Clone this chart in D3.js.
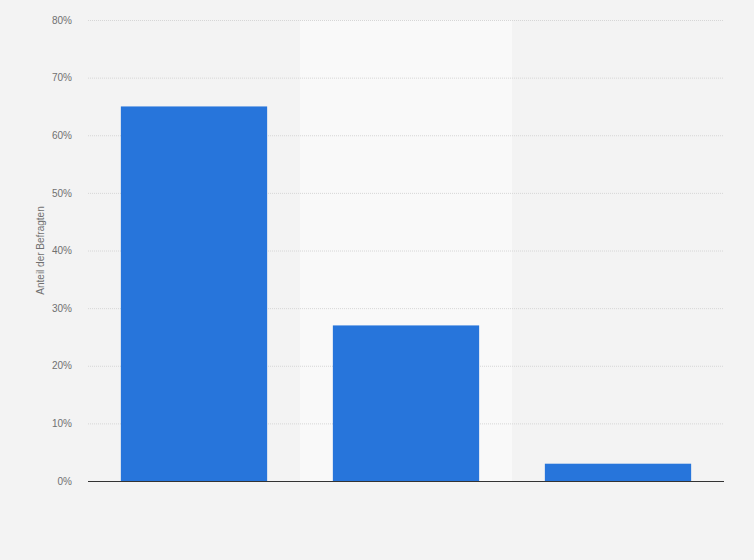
<!DOCTYPE html>
<html>
<head>
<meta charset="utf-8">
<script src="https://cdn.jsdelivr.net/npm/d3@7"></script>
<style>
  html, body { margin: 0; padding: 0; background: #f3f3f3; }
  svg { display: block; font-family: "Liberation Sans", Arial, sans-serif; }
</style>
</head>
<body>
<svg width="754" height="560"></svg>
<script>
const categories = ["Kategorie 1", "Kategorie 2", "Kategorie 3"];
const values = [65, 27, 3];
const yTicks = [0, 10, 20, 30, 40, 50, 60, 70, 80];
const yTitle = "Anteil der Befragten";

const svg = d3.select("svg");
const margin = {top: 20, right: 30, bottom: 79, left: 88};
const width = 754 - margin.left - margin.right;
const height = 560 - margin.top - margin.bottom;

const g = svg.append("g")
  .attr("transform", `translate(${margin.left},${margin.top})`);

const x = d3.scaleBand()
  .domain(categories)
  .range([0, width])
  .paddingInner(0.31)
  .paddingOuter(0.155);

const y = d3.scaleLinear()
  .domain([0, 80])
  .range([height, 0]);

// highlighted middle column
g.append("rect")
  .attr("x", x.step())
  .attr("y", 0)
  .attr("width", x.step())
  .attr("height", height)
  .attr("fill", "#f9f9f9");

// grid lines
g.append("g")
  .selectAll("line")
  .data(yTicks.filter(d => d > 0))
  .join("line")
  .attr("x1", 0)
  .attr("x2", width)
  .attr("y1", d => y(d) + 0.5)
  .attr("y2", d => y(d) + 0.5)
  .attr("stroke", "#d6d6d6")
  .attr("stroke-width", 1)
  .attr("stroke-dasharray", "1,1");

// y axis labels
const yAxis = g.append("g")
  .call(d3.axisLeft(y).tickValues(yTicks).tickFormat(d => d + "%").tickSize(0).tickPadding(16));
yAxis.select(".domain").remove();
yAxis.selectAll("text")
  .attr("fill", "#707070")
  .attr("font-size", "10px")
  .attr("font-family", "\"Liberation Sans\", Arial, sans-serif");

// bars
g.append("g")
  .selectAll("rect")
  .data(values)
  .join("rect")
  .attr("x", (d, i) => x(categories[i]))
  .attr("y", d => y(d))
  .attr("width", x.bandwidth())
  .attr("height", d => height - y(d))
  .attr("fill", "#2775db");

// baseline
g.append("line")
  .attr("x1", 0)
  .attr("x2", width)
  .attr("y1", height + 0.5)
  .attr("y2", height + 0.5)
  .attr("stroke", "#333")
  .attr("stroke-width", 1.2);

// y title
svg.append("text")
  .attr("transform", `translate(44,${margin.top + height / 2}) rotate(-90)`)
  .attr("text-anchor", "middle")
  .attr("font-size", "10px")
  .attr("fill", "#707070")
  .text(yTitle);
</script>
</body>
</html>
